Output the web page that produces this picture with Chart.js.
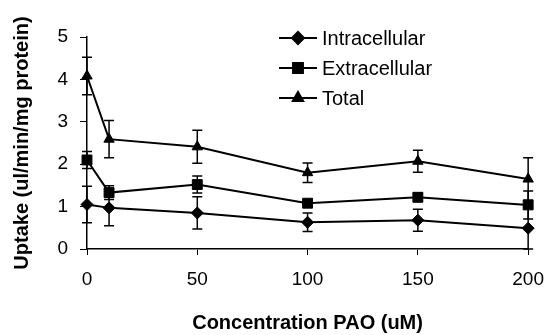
<!DOCTYPE html>
<html>
<head>
<meta charset="utf-8">
<script src="https://cdn.jsdelivr.net/npm/chart.js@4.4.0/dist/chart.umd.min.js"></script>
<style>
  html, body { margin: 0; padding: 0; background: #fff; }
  #wrap { width: 557px; height: 335px; }
</style>
</head>
<body>
<div id="wrap"><canvas id="uptakeChart" width="557" height="335"></canvas></div>
<script>
// Data
const concentrations = [0, 10, 50, 100, 150, 200];
const seriesNames = ["Intracellular", "Extracellular", "Total"];
const intracellular = [1.05, 0.97, 0.85, 0.63, 0.68, 0.49];
const intracellularErr = [0.43, 0.42, 0.38, 0.22, 0.26, 0.5];
const extracellular = [2.1, 1.33, 1.52, 1.08, 1.22, 1.04];
const extracellularErr = [0.2, 0.16, 0.2, 0.07, 0.1, 0.33];
const total = [4.08, 2.59, 2.41, 1.8, 2.07, 1.65];
const totalErr = [0.44, 0.44, 0.39, 0.23, 0.26, 0.5];
const xTicks = [0, 50, 100, 150, 200];
const yTicks = [0, 1, 2, 3, 4, 5];

const fontFamily = "'Liberation Sans', Arial, sans-serif";

function toPoints(xs, ys) {
  return xs.map((x, i) => ({ x: x, y: ys[i] }));
}

/* Error bars drawn through the chart scales */
const errorBarPlugin = {
  id: "errorBars",
  afterDatasetsDraw(chart) {
    const ctx = chart.ctx;
    const xs = chart.scales.x, ys = chart.scales.y;
    ctx.save();
    ctx.strokeStyle = "#000";
    ctx.lineWidth = 1.5;
    chart.data.datasets.forEach(ds => {
      ds.data.forEach((p, i) => {
        const e = ds.errors[i];
        const px = xs.getPixelForValue(p.x);
        const top = ys.getPixelForValue(p.y + e);
        const bot = ys.getPixelForValue(Math.max(p.y - e, 0));
        ctx.beginPath();
        ctx.moveTo(px, top); ctx.lineTo(px, bot);
        ctx.moveTo(px - 5, top); ctx.lineTo(px + 5, top);
        ctx.moveTo(px - 5, bot); ctx.lineTo(px + 5, bot);
        ctx.stroke();
      });
    });
    ctx.restore();
  }
};

/* Legend with line + marker, like the original */
const lineLegendPlugin = {
  id: "lineLegend",
  afterDraw(chart) {
    const ctx = chart.ctx;
    const rows = [38, 68, 98];
    ctx.save();
    ctx.font = "20px " + fontFamily;
    ctx.textBaseline = "middle";
    ctx.fillStyle = "#000";
    chart.data.datasets.forEach((ds, i) => {
      const y = rows[i];
      ctx.strokeStyle = "#000";
      ctx.lineWidth = 2;
      ctx.beginPath();
      ctx.moveTo(279, y); ctx.lineTo(317, y);
      ctx.stroke();
      Chart.helpers.drawPoint(ctx, {
        pointStyle: ds.pointStyle, radius: ds.pointRadius, borderWidth: 1, rotation: 0
      }, 298, y);
      ctx.fillStyle = "#000";
      ctx.fill();
      ctx.fillText(ds.label, 322, y + 1);
    });
    ctx.restore();
  }
};

const chart = new Chart(document.getElementById("uptakeChart"), {
  type: "line",
  data: {
    datasets: [
      {
        label: seriesNames[0],
        data: toPoints(concentrations, intracellular),
        errors: intracellularErr,
        pointStyle: "rectRot",
        pointRadius: 6
      },
      {
        label: seriesNames[1],
        data: toPoints(concentrations, extracellular),
        errors: extracellularErr,
        pointStyle: "rect",
        pointRadius: 7
      },
      {
        label: seriesNames[2],
        data: toPoints(concentrations, total),
        errors: totalErr,
        pointStyle: "triangle",
        pointRadius: 6
      }
    ].map(ds => Object.assign(ds, {
      borderColor: "#000",
      backgroundColor: "#000",
      pointBackgroundColor: "#000",
      pointBorderColor: "#000",
      pointBorderWidth: 1,
      borderWidth: 2,
      tension: 0,
      clip: false
    }))
  },
  options: {
    responsive: false,
    animation: false,
    layout: { padding: { left: 0, right: 19, top: 37, bottom: 0 } },
    plugins: {
      legend: { display: false },
      tooltip: { enabled: false }
    },
    scales: {
      x: {
        type: "linear",
        min: 0,
        max: 200,
        afterBuildTicks: axis => { axis.ticks = xTicks.map(v => ({ value: v })); },
        grid: { drawOnChartArea: false, drawTicks: true, tickLength: 6, color: "#000" },
        border: { color: "#000", width: 1.5 },
        ticks: { color: "#000", font: { family: fontFamily, size: 19 }, padding: 13, maxRotation: 0 },
        title: {
          display: true,
          text: "Concentration PAO (uM)",
          color: "#000",
          font: { family: fontFamily, size: 20, weight: "bold" },
          padding: { top: 11, bottom: 0 }
        },
        afterFit: axis => { axis.height = 86; }
      },
      y: {
        min: 0,
        max: 5,
        afterBuildTicks: axis => { axis.ticks = yTicks.map(v => ({ value: v })); },
        grid: { drawOnChartArea: false, drawTicks: true, tickLength: 7, color: "#000" },
        border: { color: "#000", width: 1.5 },
        ticks: { color: "#000", font: { family: fontFamily, size: 19 }, padding: 12 },
        title: {
          display: true,
          text: "Uptake (ul/min/mg protein)",
          color: "#000",
          font: { family: fontFamily, size: 20, weight: "bold" },
          padding: { top: 10, bottom: 4 }
        },
        afterFit: axis => { axis.width = 87; }
      }
    }
  },
  plugins: [errorBarPlugin, lineLegendPlugin]
});
</script>
</body>
</html>
